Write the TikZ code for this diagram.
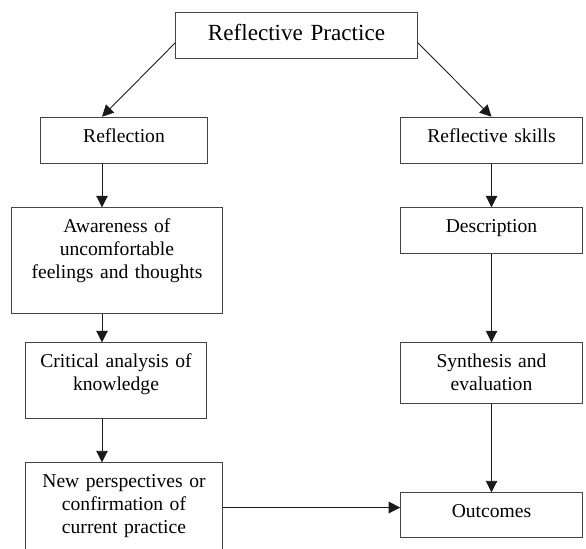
\documentclass[tikz,border=0pt]{standalone}
\usepackage{fontspec}
\setmainfont{Liberation Serif}
\usetikzlibrary{arrows.meta}
\definecolor{boxedge}{HTML}{444444}
\definecolor{lineedge}{HTML}{1A1A1A}

\begin{document}
\begin{tikzpicture}[
  box/.style={rectangle, draw=boxedge, line width=0.6pt, inner sep=0pt, anchor=north,
              align=center, text height=0.5cm, font=\fontsize{11.15}{13.1}\selectfont},
  head/.style={box, text height=0.554cm, font=\fontsize{13.15}{15.5}\selectfont},
  arr/.style={draw=lineedge, line width=0.5pt, -{Triangle[length=0.23cm, width=0.23cm]}},
]
\clip (0,0) rectangle (11.72,-10.96);
\node[head, text width=4.83cm, text depth=0.36cm] (practice) at (5.93,-0.246) {Reflective Practice};
% left column: reflection chain
\node[box, text width=3.33cm, text depth=0.43cm] (refl)  at (2.48,-2.334) {Reflection};
\node[box, text width=4.21cm, text depth=1.62cm] (aware) at (2.34,-4.146) {Awareness of\\uncomfortable\\feelings and thoughts};
\node[box, text width=3.62cm, text depth=1.02cm] (crit)  at (2.32,-6.846) {Critical analysis of\\knowledge};
\node[box, text width=3.93cm, text depth=1.50cm] (newp)  at (2.48,-9.246) {New perspectives or\\confirmation of\\current practice};
% right column: skills chain
\node[box, text width=3.63cm, text depth=0.43cm] (rskill) at (9.83,-2.334) {Reflective skills};
\node[box, text width=3.63cm, text depth=0.42cm] (desc)   at (9.83,-4.146) {Description};
\node[box, text width=3.63cm, text depth=0.71cm] (synth)  at (9.83,-6.846) {Synthesis and\\evaluation};
\node[box, text width=3.63cm, text depth=0.40cm] (outc)   at (9.83,-9.846) {Outcomes};
\coordinate (lcol) at (2.04,0);
\coordinate (outin) at ([yshift=0.156cm]outc.west);
\draw[arr] ([yshift=-0.143cm]practice.west) -- (refl.north -| lcol);
\draw[arr] ([yshift=-0.143cm]practice.east) -- (rskill.north);
\draw[arr] (refl.south -| lcol)  -- (aware.north -| lcol);
\draw[arr] (aware.south -| lcol) -- (crit.north -| lcol);
\draw[arr] (crit.south -| lcol)  -- (newp.north -| lcol);
\draw[arr] (rskill.south) -- (desc.north);
\draw[arr] (desc.south)   -- (synth.north);
\draw[arr] (synth.south)  -- (outc.north);
\draw[arr] (newp.east |- outin) -- (outin);
\end{tikzpicture}
\end{document}
